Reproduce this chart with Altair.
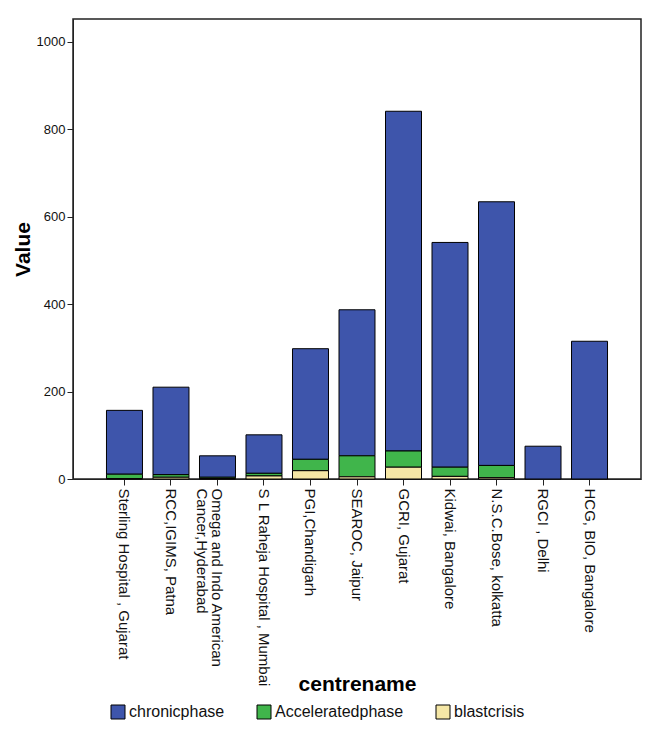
import altair as alt
import pandas as pd

centres = [
    "Sterling Hospital , Gujarat",
    "RCC,IGIMS, Patna",
    "Omega and Indo American|Cancer,Hyderabad",
    "S L Raheja Hospital , Mumbai",
    "PGI,Chandigarh",
    "SEAROC, Jaipur",
    "GCRI, Gujarat",
    "Kidwai, Bangalore",
    "N.S.C.Bose, kolkatta",
    "RGCI , Delhi",
    "HCG, BIO, Bangalore",
]
chronic = [146, 200, 49, 88, 253, 334, 777, 514, 603, 75, 315]
accelerated = [10, 6, 3, 6, 26, 48, 37, 21, 28, 0, 0]
blast = [1, 4, 1, 7, 19, 5, 27, 6, 3, 0, 0]

phases = ["chronicphase", "Acceleratedphase", "blastcrisis"]
colors = ["#3E55AB", "#40B54B", "#F5E7A6"]
stack_rank = {"blastcrisis": 0, "Acceleratedphase": 1, "chronicphase": 2}

rows = []
for i, c in enumerate(centres):
    for p, vals in zip(phases, [chronic, accelerated, blast]):
        if vals[i] > 0:
            rows.append({"centrename": c, "phase": p, "Value": vals[i], "rank": stack_rank[p]})
df = pd.DataFrame(rows)

font = "Liberation Sans"

chart = (
    alt.Chart(df)
    .mark_bar(stroke="black", strokeWidth=1)
    .encode(
        x=alt.X(
            "centrename:N",
            sort=centres,
            title="centrename",
            scale=alt.Scale(paddingInner=0.226, paddingOuter=0.72),
            axis=alt.Axis(
                labelAngle=90,
                labelExpr="split(datum.label, '|')",
                labelFontSize=15,
                labelFont=font,
                labelColor="#111111",
                labelLineHeight=15,
                labelLimit=300,
                tickSize=6,
                tickColor="#222222",
                domainColor="#222222",
                titleFontSize=21,
                titleFont=font,
                titleFontWeight="bold",
                titleY=205,
                titleBaseline="middle",
                labelPadding=3,
            ),
        ),
        y=alt.Y(
            "sum(Value):Q",
            title="Value",
            stack="zero",
            scale=alt.Scale(domain=[0, 1052], nice=False),
            axis=alt.Axis(
                values=[0, 200, 400, 600, 800, 1000],
                format="d",
                grid=False,
                labelFontSize=13,
                labelFont=font,
                labelColor="#111111",
                tickSize=6,
                tickColor="#222222",
                domainColor="#222222",
                titleFontSize=21,
                titleFont=font,
                titleFontWeight="bold",
                titlePadding=3,
            ),
        ),
        color=alt.Color(
            "phase:N",
            scale=alt.Scale(domain=phases, range=colors),
            legend=alt.Legend(
                title=None,
                orient="none",
                direction="horizontal",
                legendX=37,
                legendY=685,
                symbolType="square",
                symbolSize=196,
                symbolStrokeColor="black",
                symbolStrokeWidth=1,
                symbolOpacity=1,
                labelFontSize=16,
                labelFont=font,
                labelColor="#111111",
                columnPadding=30,
                labelOffset=3,
            ),
        ),
        order=alt.Order("rank:Q", sort="ascending"),
    )
    .properties(
        width=568,
        height=460,
        background="white",
        autosize=alt.AutoSizeParams(type="none"),
        padding={"left": 65, "top": 11, "right": 10, "bottom": 255},
    )
    .configure_view(stroke="#222222", strokeWidth=1.5, strokeOpacity=1)
)

chart.save("out.html", embed_options={"renderer": "svg", "actions": False})
